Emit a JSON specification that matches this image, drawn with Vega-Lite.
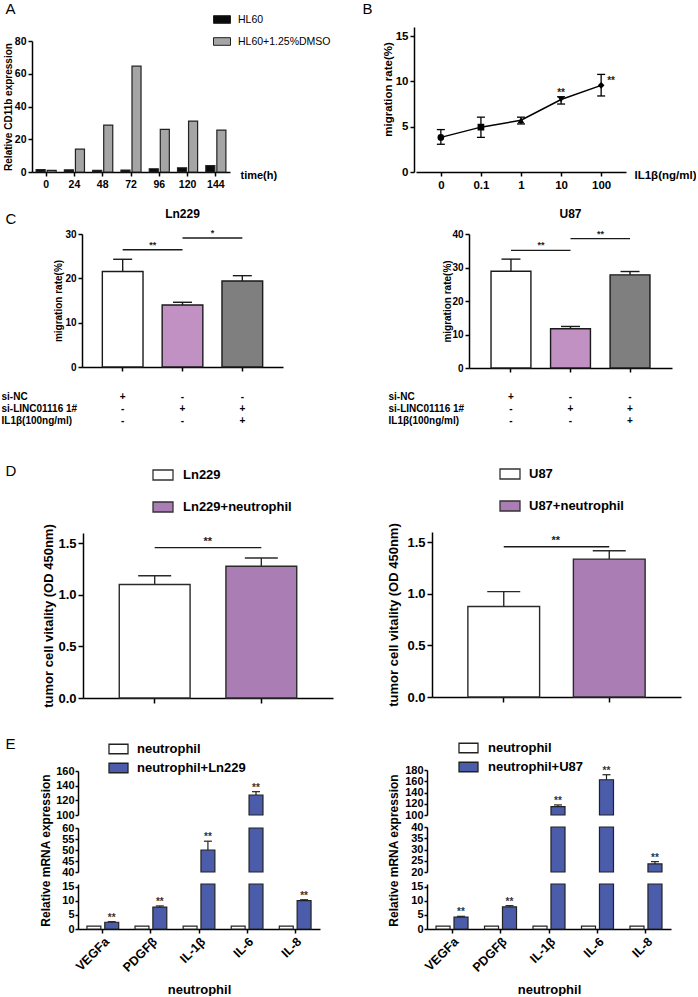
{
"$schema": "https://vega.github.io/schema/vega-lite/v6.json",
"padding": {"left": 1, "top": 1, "right": 0, "bottom": 0},
"columns": 2,
"align": "each",
"bounds": "flush",
"spacing": {"row": 0, "column": 81},
"resolve": {"scale": {"x": "independent", "y": "independent", "fill": "independent", "shape": "independent", "xOffset": "independent"}, "legend": {"fill": "independent"}},
"config": {
  "font": "Liberation Sans",
  "view": {"stroke": null},
  "axis": {"grid": false, "domainColor": "#000", "domainWidth": 1.5, "tickColor": "#000", "tickWidth": 1.5, "tickSize": 4, "labelColor": "#000", "labelFontWeight": "bold", "titleColor": "#000", "titleFontWeight": "bold", "labelFont": "Liberation Sans", "titleFont": "Liberation Sans"},
  "axisY": {"labelOverlap": false, "tickCount": 20},
  "legend": {"labelColor": "#000", "labelFont": "Liberation Sans"}
},
"datasets": {
  "a": [
    {"t":"0","g":"HL60","v":1.4},{"t":"0","g":"HL60+1.25%DMSO","v":1.0},
    {"t":"24","g":"HL60","v":1.3},{"t":"24","g":"HL60+1.25%DMSO","v":14.0},
    {"t":"48","g":"HL60","v":1.0},{"t":"48","g":"HL60+1.25%DMSO","v":28.6},
    {"t":"72","g":"HL60","v":1.2},{"t":"72","g":"HL60+1.25%DMSO","v":64.6},
    {"t":"96","g":"HL60","v":2.0},{"t":"96","g":"HL60+1.25%DMSO","v":26.0},
    {"t":"120","g":"HL60","v":2.6},{"t":"120","g":"HL60+1.25%DMSO","v":31.1},
    {"t":"144","g":"HL60","v":3.9},{"t":"144","g":"HL60+1.25%DMSO","v":25.6}
  ],
  "b": [
    {"c":"0","m":3.82,"lo":3.06,"hi":4.68},
    {"c":"0.1","m":4.95,"lo":3.82,"hi":6.05},
    {"c":"1","m":5.71,"lo":5.3,"hi":6.05},
    {"c":"10","m":8.0,"lo":7.5,"hi":8.3,"sig":"**"},
    {"c":"100","m":9.56,"lo":8.39,"hi":10.77,"sig":"**"}
  ],
  "cl": [{"k":"a","v":21.55,"hi":24.3},{"k":"b","v":14.0,"hi":14.6},{"k":"c","v":19.4,"hi":20.6}],
  "clsig": [{"f":"a","t":"b","y":26.45,"s":"**"},{"f":"b","t":"c","y":29.1,"s":"*"}],
  "cr": [{"k":"a","v":28.9,"hi":32.5},{"k":"b","v":11.7,"hi":12.4},{"k":"c","v":27.8,"hi":28.8}],
  "crsig": [{"f":"a","t":"b","y":35.1,"s":"**"},{"f":"b","t":"c","y":38.6,"s":"**"}],
  "dl": [{"k":"Ln229","v":1.10,"hi":1.186},{"k":"Ln229+neutrophil","v":1.277,"hi":1.358}],
  "dlsig": [{"f":"Ln229","t":"Ln229+neutrophil","y":1.458,"s":"**"}],
  "dr": [{"k":"U87","v":0.877,"hi":1.022},{"k":"U87+neutrophil","v":1.337,"hi":1.418}],
  "drsig": [{"f":"U87","t":"U87+neutrophil","y":1.457,"s":"**"}],
  "el": [
    {"gene":"VEGFa","grp":"neutrophil","v":1},
    {"gene":"VEGFa","grp":"neutrophil+Ln229","v":2.4,"hi":2.6,"sig":"**"},
    {"gene":"PDGFβ","grp":"neutrophil","v":1},
    {"gene":"PDGFβ","grp":"neutrophil+Ln229","v":7.8,"hi":8.2,"sig":"**"},
    {"gene":"IL-1β","grp":"neutrophil","v":1},
    {"gene":"IL-1β","grp":"neutrophil+Ln229","v":50.0,"hi":54.0,"sig":"**"},
    {"gene":"IL-6","grp":"neutrophil","v":1},
    {"gene":"IL-6","grp":"neutrophil+Ln229","v":127.3,"hi":131.8,"sig":"**"},
    {"gene":"IL-8","grp":"neutrophil","v":1},
    {"gene":"IL-8","grp":"neutrophil+Ln229","v":10.1,"hi":10.4,"sig":"**"}
  ],
  "er": [
    {"gene":"VEGFa","grp":"neutrophil","v":1},
    {"gene":"VEGFa","grp":"neutrophil+U87","v":4.2,"hi":4.5,"sig":"**"},
    {"gene":"PDGFβ","grp":"neutrophil","v":1},
    {"gene":"PDGFβ","grp":"neutrophil+U87","v":7.9,"hi":8.3,"sig":"**"},
    {"gene":"IL-1β","grp":"neutrophil","v":1},
    {"gene":"IL-1β","grp":"neutrophil+U87","v":115.0,"hi":117.9,"sig":"**"},
    {"gene":"IL-6","grp":"neutrophil","v":1},
    {"gene":"IL-6","grp":"neutrophil+U87","v":162.7,"hi":171.6,"sig":"**"},
    {"gene":"IL-8","grp":"neutrophil","v":1},
    {"gene":"IL-8","grp":"neutrophil+U87","v":23.6,"hi":24.6,"sig":"**"}
  ]
},
"concat": [
  {
    "width": 198, "height": 145,
    "data": {"name": "a"},
    "layer": [
      {"mark": {"type": "bar", "stroke": "#222", "strokeWidth": 1.2},
       "encoding": {
         "x": {"field": "t", "type": "ordinal", "sort": ["0","24","48","72","96","120","144"], "scale": {"paddingInner": 0.29, "paddingOuter": 0.145},
               "axis": {"orient": "bottom", "labelAngle": 0, "labelFontSize": 10.5, "labelPadding": 3, "title": "time(h)", "titleFontSize": 11, "titleX": 208, "titleY": 3, "titleAlign": "left", "titleBaseline": "middle"}},
         "xOffset": {"field": "g", "type": "nominal", "sort": ["HL60","HL60+1.25%DMSO"], "scale": {"paddingInner": 0.18}},
         "y": {"field": "v", "type": "quantitative", "scale": {"domain": [0, 80], "range": [145, 14]},
               "axis": {"values": [0,20,40,60,80], "tickCount": 20, "labelOverlap": false, "labelFontSize": 10.5, "labelPadding": 2, "title": "Relative CD11b expression", "titleFontSize": 10, "titleX": -24, "titleY": 79.5, "titleBaseline": "middle"}},
         "fill": {"field": "g", "type": "nominal", "scale": {"domain": ["HL60","HL60+1.25%DMSO"], "range": ["#0a0a0a","#a5a5a5"]},
                  "legend": {"orient": "none", "legendX": 181, "legendY": -16.5, "title": null, "symbolType": "M-1,-0.45H1V0.45H-1Z", "symbolSize": 289, "symbolStrokeColor": "#222", "symbolStrokeWidth": 1, "labelFontSize": 10.5, "labelOffset": 7, "rowPadding": 7}}
       }},
      {"mark": {"type": "text", "text": ""},
       "encoding": {
         "x": {"field": "t", "type": "ordinal", "sort": ["0","24","48","72","96","120","144"],
               "axis": {"orient": "top", "domain": false, "ticks": false, "labels": false, "title": "A", "titleX": -27, "titleY": -14, "titleAlign": "left", "titleBaseline": "alphabetic", "titleFontSize": 15, "titleFontWeight": "normal"}},
         "y": {"field": "v", "type": "quantitative"}
       }}
    ]
  },
  {
    "width": 212, "height": 145,
    "data": {"name": "b"},
    "layer": [
      {"mark": {"type": "line", "color": "#000", "strokeWidth": 1.5},
       "encoding": {
         "x": {"field": "c", "type": "ordinal", "sort": ["0","0.1","1","10","100"], "scale": {"type": "point", "padding": 0.62, "range": [2, 212]},
               "axis": {"orient": "bottom", "labelAngle": 0, "labelFontSize": 11.5, "labelPadding": 3, "title": "IL1β(ng/ml)", "titleFontSize": 11.5, "titleX": 220, "titleY": 3, "titleAlign": "left", "titleBaseline": "middle"}},
         "y": {"field": "m", "type": "quantitative", "scale": {"domain": [0, 15]},
               "axis": {"values": [0,5,10,15], "tickCount": 20, "labelOverlap": false, "labelFontSize": 11.5, "labelPadding": 2, "title": "migration rate(%)", "titleFontSize": 11.5, "titleX": -26, "titleY": 62, "titleBaseline": "middle"}}
       }},
      {"mark": {"type": "rule", "color": "#000", "strokeWidth": 1.3},
       "encoding": {
         "x": {"field": "c", "type": "ordinal", "sort": ["0","0.1","1","10","100"], "axis": null},
         "y": {"field": "lo", "type": "quantitative"},
         "y2": {"field": "hi"}
       }},
      {"mark": {"type": "tick", "orient": "horizontal", "color": "#000", "size": 8, "thickness": 1.3, "opacity": 1},
       "encoding": {
         "x": {"field": "c", "type": "ordinal", "sort": ["0","0.1","1","10","100"], "axis": null},
         "y": {"field": "hi", "type": "quantitative"}
       }},
      {"mark": {"type": "tick", "orient": "horizontal", "color": "#000", "size": 8, "thickness": 1.3, "opacity": 1},
       "encoding": {
         "x": {"field": "c", "type": "ordinal", "sort": ["0","0.1","1","10","100"], "axis": null},
         "y": {"field": "lo", "type": "quantitative"}
       }},
      {"mark": {"type": "point", "filled": true, "color": "#000", "opacity": 1, "size": 45},
       "encoding": {
         "x": {"field": "c", "type": "ordinal", "sort": ["0","0.1","1","10","100"], "axis": null},
         "y": {"field": "m", "type": "quantitative"},
         "shape": {"field": "c", "type": "nominal", "scale": {"domain": ["0","0.1","1","10","100"], "range": ["circle","square","triangle-up","triangle-down","diamond"]}, "legend": null}
       }},
      {"transform": [{"filter": "datum.c == '10'"}],
       "mark": {"type": "text", "fontSize": 10, "fontWeight": "bold", "baseline": "alphabetic", "dy": -1, "color": "#222"},
       "encoding": {
         "x": {"field": "c", "type": "ordinal", "sort": ["0","0.1","1","10","100"], "axis": null},
         "y": {"field": "hi", "type": "quantitative"},
         "text": {"field": "sig"}
       }},
      {"transform": [{"filter": "datum.c == '100'"}],
       "mark": {"type": "text", "fontSize": 10, "fontWeight": "bold", "baseline": "alphabetic", "align": "left", "dx": 6, "dy": -1, "color": "#222"},
       "encoding": {
         "x": {"field": "c", "type": "ordinal", "sort": ["0","0.1","1","10","100"], "axis": null},
         "y": {"field": "m", "type": "quantitative"},
         "text": {"field": "sig"}
       }},
      {"mark": {"type": "text", "text": ""},
       "encoding": {
         "x": {"field": "c", "type": "ordinal", "sort": ["0","0.1","1","10","100"],
               "axis": {"orient": "top", "domain": false, "ticks": false, "labels": false, "title": "B", "titleX": -52, "titleY": -14, "titleAlign": "left", "titleBaseline": "alphabetic", "titleFontSize": 15, "titleFontWeight": "normal"}},
         "y": {"field": "m", "type": "quantitative"}
       }}
    ]
  },
  {
    "width": 251, "height": 195,
    "layer": [
      {"data": {"name": "cl"},
       "mark": {"type": "bar", "stroke": "#1a1a1a", "strokeWidth": 1.4},
       "encoding": {
         "x": {"field": "k", "type": "nominal", "scale": {"domain": ["a","b","c"], "range": [50, 251], "paddingInner": 0.32, "paddingOuter": 0.34},
               "axis": {"orient": "bottom", "labelExpr": "datum.value == 'a' ? ['+','-','-'] : datum.value == 'b' ? ['-','+','-'] : ['-','+','+']", "labelAngle": 0, "labelFontSize": 10, "labelBaseline": "top", "labelPadding": 20, "labelLineHeight": 12,
                        "title": ["si-NC", "si-LINC01116 1#", "IL1β(100ng/ml)"], "titleX": -31, "titleY": 24, "titleAlign": "left", "titleBaseline": "top", "titleAngle": 0, "titleFontSize": 10, "titleLineHeight": 12}},
         "y": {"field": "v", "type": "quantitative", "scale": {"domain": [0, 30], "range": [195, 62]},
               "axis": {"offset": -50, "values": [0,10,20,30], "tickCount": 20, "labelOverlap": false, "labelFontSize": 10, "labelPadding": 2, "title": "migration rate(%)", "titleFontSize": 10, "titleX": -24, "titleY": 128.5, "titleBaseline": "middle"}},
         "fill": {"field": "k", "type": "nominal", "scale": {"domain": ["a","b","c"], "range": ["#ffffff","#c091c2","#7f7f7f"]}, "legend": null}
       }},
      {"data": {"name": "cl"},
       "mark": {"type": "rule", "color": "#1a1a1a", "strokeWidth": 1.4},
       "encoding": {
         "x": {"field": "k", "type": "nominal", "axis": null},
         "y": {"field": "v", "type": "quantitative"},
         "y2": {"field": "hi"}
       }},
      {"data": {"name": "cl"},
       "mark": {"type": "tick", "orient": "horizontal", "color": "#1a1a1a", "size": 19, "thickness": 1.4, "opacity": 1},
       "encoding": {
         "x": {"field": "k", "type": "nominal", "axis": null},
         "y": {"field": "hi", "type": "quantitative"}
       }},
      {"data": {"name": "clsig"},
       "mark": {"type": "rule", "color": "#1a1a1a", "strokeWidth": 1.3},
       "encoding": {
         "x": {"field": "f", "type": "nominal", "bandPosition": 0.5, "axis": null},
         "x2": {"field": "t", "bandPosition": 0.5},
         "y": {"field": "y", "type": "quantitative"}
       }},
      {"data": {"name": "clsig"},
       "mark": {"type": "text", "fontSize": 9, "fontWeight": "bold", "baseline": "alphabetic", "dx": 30, "dy": -2, "color": "#222"},
       "encoding": {
         "x": {"field": "f", "type": "nominal", "axis": null},
         "y": {"field": "y", "type": "quantitative"},
         "text": {"field": "s"}
       }},
      {"data": {"name": "cl"},
       "mark": {"type": "text", "text": ""},
       "encoding": {
         "x": {"field": "k", "type": "nominal",
               "axis": {"orient": "top", "domain": false, "ticks": false, "tickSize": 0, "labelExpr": "datum.value == 'b' ? 'Ln229' : ''", "labelAngle": 0, "labelFontSize": 12, "labelPadding": -41, "labelBaseline": "middle",
                        "title": "C", "titleX": -27, "titleY": 51, "titleAlign": "left", "titleBaseline": "alphabetic", "titleFontSize": 15, "titleFontWeight": "normal"}},
         "y": {"field": "v", "type": "quantitative"}
       }}
    ]
  },
  {
    "width": 258, "height": 196,
    "layer": [
      {"data": {"name": "cr"},
       "mark": {"type": "bar", "stroke": "#1a1a1a", "strokeWidth": 1.4},
       "encoding": {
         "x": {"field": "k", "type": "nominal", "scale": {"domain": ["a","b","c"], "range": [55, 258], "paddingInner": 0.33, "paddingOuter": 0.37},
               "axis": {"orient": "bottom", "labelExpr": "datum.value == 'a' ? ['+','-','-'] : datum.value == 'b' ? ['-','+','-'] : ['-','+','+']", "labelAngle": 0, "labelFontSize": 10, "labelBaseline": "top", "labelPadding": 19, "labelLineHeight": 12,
                        "title": ["si-NC", "si-LINC01116 1#", "IL1β(100ng/ml)"], "titleX": -26, "titleY": 23, "titleAlign": "left", "titleBaseline": "top", "titleAngle": 0, "titleFontSize": 10, "titleLineHeight": 12}},
         "y": {"field": "v", "type": "quantitative", "scale": {"domain": [0, 40], "range": [196, 62]},
               "axis": {"offset": -55, "values": [0,10,20,30,40], "tickCount": 20, "labelOverlap": false, "labelFontSize": 10, "labelPadding": 2, "title": "migration rate(%)", "titleFontSize": 10, "titleX": -22, "titleY": 129, "titleBaseline": "middle"}},
         "fill": {"field": "k", "type": "nominal", "scale": {"domain": ["a","b","c"], "range": ["#ffffff","#c091c2","#7f7f7f"]}, "legend": null}
       }},
      {"data": {"name": "cr"},
       "mark": {"type": "rule", "color": "#1a1a1a", "strokeWidth": 1.4},
       "encoding": {
         "x": {"field": "k", "type": "nominal", "axis": null},
         "y": {"field": "v", "type": "quantitative"},
         "y2": {"field": "hi"}
       }},
      {"data": {"name": "cr"},
       "mark": {"type": "tick", "orient": "horizontal", "color": "#1a1a1a", "size": 19, "thickness": 1.4, "opacity": 1},
       "encoding": {
         "x": {"field": "k", "type": "nominal", "axis": null},
         "y": {"field": "hi", "type": "quantitative"}
       }},
      {"data": {"name": "crsig"},
       "mark": {"type": "rule", "color": "#1a1a1a", "strokeWidth": 1.3},
       "encoding": {
         "x": {"field": "f", "type": "nominal", "bandPosition": 0.5, "axis": null},
         "x2": {"field": "t", "bandPosition": 0.5},
         "y": {"field": "y", "type": "quantitative"}
       }},
      {"data": {"name": "crsig"},
       "mark": {"type": "text", "fontSize": 9, "fontWeight": "bold", "baseline": "alphabetic", "dx": 30, "dy": -2, "color": "#222"},
       "encoding": {
         "x": {"field": "f", "type": "nominal", "axis": null},
         "y": {"field": "y", "type": "quantitative"},
         "text": {"field": "s"}
       }},
      {"data": {"name": "cr"},
       "mark": {"type": "text", "text": ""},
       "encoding": {
         "x": {"field": "k", "type": "nominal",
               "axis": {"orient": "top", "domain": false, "ticks": false, "tickSize": 0, "labelExpr": "datum.value == 'b' ? 'U87' : ''", "labelAngle": 0, "labelFontSize": 12, "labelPadding": -41, "labelBaseline": "middle", "title": null}},
         "y": {"field": "v", "type": "quantitative"}
       }}
    ]
  },
  {
    "width": 301, "height": 330,
    "layer": [
      {"data": {"name": "dl"},
       "mark": {"type": "bar", "stroke": "#2a2a2a", "strokeWidth": 1.4},
       "encoding": {
         "x": {"field": "k", "type": "nominal", "scale": {"domain": ["Ln229","Ln229+neutrophil"], "range": [51, 301], "paddingInner": 0.336, "paddingOuter": 0.34},
               "axis": {"orient": "bottom", "labels": false, "tickSize": 5, "title": null}},
         "y": {"field": "v", "type": "quantitative", "scale": {"domain": [0, 1.5], "range": [330, 165]},
               "axis": {"offset": -51, "values": [0,0.5,1,1.5], "tickCount": 20, "labelOverlap": false, "format": ".1f", "labelFontSize": 13, "labelPadding": 2, "tickSize": 5, "title": "tumor cell vitality (OD 450nm)", "titleFontSize": 13, "titleX": -35, "titleY": 247.5, "titleBaseline": "middle"}},
         "fill": {"field": "k", "type": "nominal", "scale": {"domain": ["Ln229","Ln229+neutrophil"], "range": ["#ffffff","#aa7db4"]},
                  "legend": {"orient": "none", "legendX": 120, "legendY": 96, "title": null, "symbolType": "M-1,-0.5H1V0.5H-1Z", "symbolSize": 400, "symbolStrokeColor": "#333", "symbolStrokeWidth": 1.3, "labelFontSize": 13, "labelFontWeight": "bold", "labelOffset": 9, "rowPadding": 13}}
       }},
      {"data": {"name": "dl"},
       "mark": {"type": "rule", "color": "#2a2a2a", "strokeWidth": 1.4},
       "encoding": {
         "x": {"field": "k", "type": "nominal", "axis": null},
         "y": {"field": "v", "type": "quantitative"},
         "y2": {"field": "hi"}
       }},
      {"data": {"name": "dl"},
       "mark": {"type": "tick", "orient": "horizontal", "color": "#2a2a2a", "size": 33, "thickness": 1.4, "opacity": 1},
       "encoding": {
         "x": {"field": "k", "type": "nominal", "axis": null},
         "y": {"field": "hi", "type": "quantitative"}
       }},
      {"data": {"name": "dlsig"},
       "mark": {"type": "rule", "color": "#1a1a1a", "strokeWidth": 1.4},
       "encoding": {
         "x": {"field": "f", "type": "nominal", "bandPosition": 0.5, "axis": null},
         "x2": {"field": "t", "bandPosition": 0.5},
         "y": {"field": "y", "type": "quantitative"}
       }},
      {"data": {"name": "dlsig"},
       "mark": {"type": "text", "fontSize": 11, "fontWeight": "bold", "baseline": "alphabetic", "dx": 53, "dy": -3, "color": "#222"},
       "encoding": {
         "x": {"field": "f", "type": "nominal", "axis": null},
         "y": {"field": "y", "type": "quantitative"},
         "text": {"field": "s"}
       }},
      {"data": {"name": "dl"},
       "mark": {"type": "text", "text": ""},
       "encoding": {
         "x": {"field": "k", "type": "nominal",
               "axis": {"orient": "top", "domain": false, "ticks": false, "labels": false, "title": "D", "titleX": -27, "titleY": 107, "titleAlign": "left", "titleBaseline": "alphabetic", "titleFontSize": 15, "titleFontWeight": "normal"}},
         "y": {"field": "v", "type": "quantitative"}
       }}
    ]
  },
  {
    "width": 267, "height": 329,
    "layer": [
      {"data": {"name": "dr"},
       "mark": {"type": "bar", "stroke": "#2a2a2a", "strokeWidth": 1.4},
       "encoding": {
         "x": {"field": "k", "type": "nominal", "scale": {"domain": ["U87","U87+neutrophil"], "range": [18, 267], "paddingInner": 0.32, "paddingOuter": 0.34},
               "axis": {"orient": "bottom", "labels": false, "tickSize": 5, "title": null}},
         "y": {"field": "v", "type": "quantitative", "scale": {"domain": [0, 1.5], "range": [329, 164]},
               "axis": {"offset": -18, "values": [0,0.5,1,1.5], "tickCount": 20, "labelOverlap": false, "format": ".1f", "labelFontSize": 13, "labelPadding": 2, "tickSize": 5, "title": "tumor cell vitality (OD 450nm)", "titleFontSize": 13, "titleX": -39, "titleY": 246.5, "titleBaseline": "middle"}},
         "fill": {"field": "k", "type": "nominal", "scale": {"domain": ["U87","U87+neutrophil"], "range": ["#ffffff","#aa7db4"]},
                  "legend": {"orient": "none", "legendX": 85, "legendY": 95, "title": null, "symbolType": "M-1,-0.5H1V0.5H-1Z", "symbolSize": 400, "symbolStrokeColor": "#333", "symbolStrokeWidth": 1.3, "labelFontSize": 13, "labelFontWeight": "bold", "labelOffset": 8, "rowPadding": 13}}
       }},
      {"data": {"name": "dr"},
       "mark": {"type": "rule", "color": "#2a2a2a", "strokeWidth": 1.4},
       "encoding": {
         "x": {"field": "k", "type": "nominal"},
         "y": {"field": "v", "type": "quantitative"},
         "y2": {"field": "hi"}
       }},
      {"data": {"name": "dr"},
       "mark": {"type": "tick", "orient": "horizontal", "color": "#2a2a2a", "size": 33, "thickness": 1.4, "opacity": 1},
       "encoding": {
         "x": {"field": "k", "type": "nominal"},
         "y": {"field": "hi", "type": "quantitative"}
       }},
      {"data": {"name": "drsig"},
       "mark": {"type": "rule", "color": "#1a1a1a", "strokeWidth": 1.4},
       "encoding": {
         "x": {"field": "f", "type": "nominal", "bandPosition": 0.5},
         "x2": {"field": "t", "bandPosition": 0.5},
         "y": {"field": "y", "type": "quantitative"}
       }},
      {"data": {"name": "drsig"},
       "mark": {"type": "text", "fontSize": 11, "fontWeight": "bold", "baseline": "alphabetic", "dx": 52, "dy": -3, "color": "#222"},
       "encoding": {
         "x": {"field": "f", "type": "nominal"},
         "y": {"field": "y", "type": "quantitative"},
         "text": {"field": "s"}
       }}
    ]
  },
  {
    "width": 288, "height": 117,
    "data": {"name": "el"},
    "layer": [
      {"transform": [{"filter": "datum.v > 100"}],
       "mark": {"type": "bar", "stroke": "#222", "strokeWidth": 1.2},
       "encoding": {
         "x": {"field": "gene", "type": "nominal", "scale": {"domain": ["VEGFa","PDGFβ","IL-1β","IL-6","IL-8"], "range": [46, 288], "paddingInner": 0.34, "paddingOuter": 0.186}},
         "xOffset": {"field": "grp", "type": "nominal", "scale": {"domain": ["neutrophil","neutrophil+Ln229"], "paddingInner": 0.22}},
         "y": {"field": "v", "type": "quantitative", "scale": {"domain": [100, 160], "range": [117, 73], "clamp": true},
               "axis": {"offset": -46, "values": [100,120,140,160], "tickCount": 20, "labelOverlap": false, "labelFontSize": 11, "labelPadding": 1, "tickSize": 3, "title": null}},
         "y2": {"datum": 0},
         "fill": {"field": "grp", "type": "nominal", "scale": {"domain": ["neutrophil","neutrophil+Ln229"], "range": ["#ffffff","#4b5cab"]},
                  "legend": {"orient": "none", "legendX": 76, "legendY": 40.5, "title": null, "symbolType": "M-1,-0.5H1V0.5H-1Z", "symbolSize": 361, "symbolStrokeColor": "#222", "symbolStrokeWidth": 1.3, "labelFontSize": 13, "labelFontWeight": "bold", "labelOffset": 8, "rowPadding": 1}}
       }},
      {"transform": [{"filter": "datum.hi != null && datum.hi > 100"}],
       "mark": {"type": "rule", "color": "#222", "strokeWidth": 1.2},
       "encoding": {
         "x": {"field": "gene", "type": "nominal"},
         "xOffset": {"field": "grp", "type": "nominal"},
         "y": {"field": "v", "type": "quantitative"},
         "y2": {"field": "hi"}
       }},
      {"transform": [{"filter": "datum.hi != null && datum.hi > 100"}],
       "mark": {"type": "tick", "orient": "horizontal", "color": "#222", "size": 8, "thickness": 1.2, "opacity": 1},
       "encoding": {
         "x": {"field": "gene", "type": "nominal"},
         "xOffset": {"field": "grp", "type": "nominal"},
         "y": {"field": "hi", "type": "quantitative"}
       }},
      {"transform": [{"filter": "datum.hi != null && datum.hi > 100"}],
       "mark": {"type": "text", "fontSize": 10, "fontWeight": "bold", "baseline": "alphabetic", "dy": -1, "color": "#333"},
       "encoding": {
         "x": {"field": "gene", "type": "nominal"},
         "xOffset": {"field": "grp", "type": "nominal"},
         "y": {"field": "hi", "type": "quantitative"},
         "text": {"field": "sig"}
       }},
      {"mark": {"type": "text", "text": ""},
       "encoding": {
         "x": {"field": "gene", "type": "nominal",
               "axis": {"orient": "top", "domain": false, "ticks": false, "labels": false, "title": "E", "titleX": -27, "titleY": 50, "titleAlign": "left", "titleBaseline": "alphabetic", "titleFontSize": 15, "titleFontWeight": "normal"}},
         "y": {"field": "v", "type": "quantitative"}
       }}
    ]
  },
  {
    "width": 257, "height": 117,
    "data": {"name": "er"},
    "layer": [
      {"transform": [{"filter": "datum.v > 100"}],
       "mark": {"type": "bar", "stroke": "#222", "strokeWidth": 1.2},
       "encoding": {
         "x": {"field": "gene", "type": "nominal", "scale": {"domain": ["VEGFa","PDGFβ","IL-1β","IL-6","IL-8"], "range": [13, 257], "paddingInner": 0.34, "paddingOuter": 0.186}, "axis": null},
         "xOffset": {"field": "grp", "type": "nominal", "scale": {"domain": ["neutrophil","neutrophil+U87"], "paddingInner": 0.22}},
         "y": {"field": "v", "type": "quantitative", "scale": {"domain": [100, 180], "range": [117, 72], "clamp": true},
               "axis": {"offset": -13, "values": [100,120,140,160,180], "tickCount": 20, "labelOverlap": false, "labelFontSize": 11, "labelPadding": 1, "tickSize": 3, "title": null}},
         "y2": {"datum": 0},
         "fill": {"field": "grp", "type": "nominal", "scale": {"domain": ["neutrophil","neutrophil+U87"], "range": ["#ffffff","#4b5cab"]},
                  "legend": {"orient": "none", "legendX": 44, "legendY": 39.5, "title": null, "symbolType": "M-1,-0.5H1V0.5H-1Z", "symbolSize": 361, "symbolStrokeColor": "#222", "symbolStrokeWidth": 1.3, "labelFontSize": 13, "labelFontWeight": "bold", "labelOffset": 9, "rowPadding": 1}}
       }},
      {"transform": [{"filter": "datum.hi != null && datum.hi > 100"}],
       "mark": {"type": "rule", "color": "#222", "strokeWidth": 1.2},
       "encoding": {
         "x": {"field": "gene", "type": "nominal", "axis": null},
         "xOffset": {"field": "grp", "type": "nominal"},
         "y": {"field": "v", "type": "quantitative"},
         "y2": {"field": "hi"}
       }},
      {"transform": [{"filter": "datum.hi != null && datum.hi > 100"}],
       "mark": {"type": "tick", "orient": "horizontal", "color": "#222", "size": 8, "thickness": 1.2, "opacity": 1},
       "encoding": {
         "x": {"field": "gene", "type": "nominal", "axis": null},
         "xOffset": {"field": "grp", "type": "nominal"},
         "y": {"field": "hi", "type": "quantitative"}
       }},
      {"transform": [{"filter": "datum.hi != null && datum.hi > 100"}],
       "mark": {"type": "text", "fontSize": 10, "fontWeight": "bold", "baseline": "alphabetic", "dy": -1, "color": "#333"},
       "encoding": {
         "x": {"field": "gene", "type": "nominal", "axis": null},
         "xOffset": {"field": "grp", "type": "nominal"},
         "y": {"field": "hi", "type": "quantitative"},
         "text": {"field": "sig"}
       }}
    ]
  },
  {
    "width": 288, "height": 57,
    "data": {"name": "el"},
    "layer": [
      {"transform": [{"filter": "datum.v > 40"}],
       "mark": {"type": "bar", "stroke": "#222", "strokeWidth": 1.2},
       "encoding": {
         "x": {"field": "gene", "type": "nominal", "scale": {"domain": ["VEGFa","PDGFβ","IL-1β","IL-6","IL-8"], "range": [46, 288], "paddingInner": 0.34, "paddingOuter": 0.186}, "axis": null},
         "xOffset": {"field": "grp", "type": "nominal", "scale": {"domain": ["neutrophil","neutrophil+Ln229"], "paddingInner": 0.22}},
         "y": {"field": "v", "type": "quantitative", "scale": {"domain": [40, 60], "range": [57, 13], "clamp": true},
               "axis": {"offset": -46, "values": [40,45,50,55,60], "tickCount": 20, "labelOverlap": false, "labelFontSize": 11, "labelPadding": 1, "tickSize": 3, "title": "Relative mRNA expression", "titleFontSize": 12, "titleX": -33, "titleY": 35, "titleBaseline": "middle"}},
         "y2": {"datum": 0},
         "fill": {"field": "grp", "type": "nominal", "scale": {"domain": ["neutrophil","neutrophil+Ln229"], "range": ["#ffffff","#4b5cab"]}, "legend": null}
       }},
      {"transform": [{"filter": "datum.hi != null && datum.hi > 40 && datum.hi <= 60"}],
       "mark": {"type": "rule", "color": "#222", "strokeWidth": 1.2},
       "encoding": {
         "x": {"field": "gene", "type": "nominal", "axis": null},
         "xOffset": {"field": "grp", "type": "nominal"},
         "y": {"field": "v", "type": "quantitative"},
         "y2": {"field": "hi"}
       }},
      {"transform": [{"filter": "datum.hi != null && datum.hi > 40 && datum.hi <= 60"}],
       "mark": {"type": "tick", "orient": "horizontal", "color": "#222", "size": 8, "thickness": 1.2, "opacity": 1},
       "encoding": {
         "x": {"field": "gene", "type": "nominal", "axis": null},
         "xOffset": {"field": "grp", "type": "nominal"},
         "y": {"field": "hi", "type": "quantitative"}
       }},
      {"transform": [{"filter": "datum.hi != null && datum.hi > 40 && datum.hi <= 60"}],
       "mark": {"type": "text", "fontSize": 10, "fontWeight": "bold", "baseline": "alphabetic", "dy": -1, "color": "#333"},
       "encoding": {
         "x": {"field": "gene", "type": "nominal", "axis": null},
         "xOffset": {"field": "grp", "type": "nominal"},
         "y": {"field": "hi", "type": "quantitative"},
         "text": {"field": "sig"}
       }}
    ]
  },
  {
    "width": 257, "height": 57,
    "data": {"name": "er"},
    "layer": [
      {"transform": [{"filter": "datum.v > 20"}],
       "mark": {"type": "bar", "stroke": "#222", "strokeWidth": 1.2},
       "encoding": {
         "x": {"field": "gene", "type": "nominal", "scale": {"domain": ["VEGFa","PDGFβ","IL-1β","IL-6","IL-8"], "range": [13, 257], "paddingInner": 0.34, "paddingOuter": 0.186}, "axis": null},
         "xOffset": {"field": "grp", "type": "nominal", "scale": {"domain": ["neutrophil","neutrophil+U87"], "paddingInner": 0.22}},
         "y": {"field": "v", "type": "quantitative", "scale": {"domain": [20, 40], "range": [57, 12], "clamp": true},
               "axis": {"offset": -13, "values": [20,25,30,35,40], "tickCount": 20, "labelOverlap": false, "labelFontSize": 11, "labelPadding": 1, "tickSize": 3, "title": "Relative mRNA expression", "titleFontSize": 12, "titleX": -34, "titleY": 35, "titleBaseline": "middle"}},
         "y2": {"datum": 0},
         "fill": {"field": "grp", "type": "nominal", "scale": {"domain": ["neutrophil","neutrophil+U87"], "range": ["#ffffff","#4b5cab"]}, "legend": null}
       }},
      {"transform": [{"filter": "datum.hi != null && datum.hi > 20 && datum.hi <= 40"}],
       "mark": {"type": "rule", "color": "#222", "strokeWidth": 1.2},
       "encoding": {
         "x": {"field": "gene", "type": "nominal", "axis": null},
         "xOffset": {"field": "grp", "type": "nominal"},
         "y": {"field": "v", "type": "quantitative"},
         "y2": {"field": "hi"}
       }},
      {"transform": [{"filter": "datum.hi != null && datum.hi > 20 && datum.hi <= 40"}],
       "mark": {"type": "tick", "orient": "horizontal", "color": "#222", "size": 8, "thickness": 1.2, "opacity": 1},
       "encoding": {
         "x": {"field": "gene", "type": "nominal", "axis": null},
         "xOffset": {"field": "grp", "type": "nominal"},
         "y": {"field": "hi", "type": "quantitative"}
       }},
      {"transform": [{"filter": "datum.hi != null && datum.hi > 20 && datum.hi <= 40"}],
       "mark": {"type": "text", "fontSize": 10, "fontWeight": "bold", "baseline": "alphabetic", "dy": -1, "color": "#333"},
       "encoding": {
         "x": {"field": "gene", "type": "nominal", "axis": null},
         "xOffset": {"field": "grp", "type": "nominal"},
         "y": {"field": "hi", "type": "quantitative"},
         "text": {"field": "sig"}
       }}
    ]
  },
  {
    "width": 288, "height": 57,
    "data": {"name": "el"},
    "layer": [
      {"mark": {"type": "bar", "stroke": "#222", "strokeWidth": 1.2},
       "encoding": {
         "x": {"field": "gene", "type": "nominal", "scale": {"domain": ["VEGFa","PDGFβ","IL-1β","IL-6","IL-8"], "range": [46, 288], "paddingInner": 0.34, "paddingOuter": 0.186},
               "axis": {"orient": "bottom", "labelAngle": -45, "labelFontSize": 12.5, "labelPadding": 2, "tickSize": 4, "title": "neutrophil", "titleFontSize": 13, "titleY": 60, "titleBaseline": "middle"}},
         "xOffset": {"field": "grp", "type": "nominal", "scale": {"domain": ["neutrophil","neutrophil+Ln229"], "paddingInner": 0.22}},
         "y": {"field": "v", "type": "quantitative", "scale": {"domain": [0, 15], "range": [57, 12], "clamp": true},
               "axis": {"offset": -46, "values": [0,5,10,15], "tickCount": 20, "labelOverlap": false, "labelFontSize": 11, "labelPadding": 1, "tickSize": 3, "title": null}},
         "y2": {"datum": 0},
         "fill": {"field": "grp", "type": "nominal", "scale": {"domain": ["neutrophil","neutrophil+Ln229"], "range": ["#ffffff","#4b5cab"]}, "legend": null}
       }},
      {"transform": [{"filter": "datum.hi != null && datum.hi <= 15"}],
       "mark": {"type": "rule", "color": "#222", "strokeWidth": 1.2},
       "encoding": {
         "x": {"field": "gene", "type": "nominal"},
         "xOffset": {"field": "grp", "type": "nominal"},
         "y": {"field": "v", "type": "quantitative"},
         "y2": {"field": "hi"}
       }},
      {"transform": [{"filter": "datum.hi != null && datum.hi <= 15"}],
       "mark": {"type": "tick", "orient": "horizontal", "color": "#222", "size": 8, "thickness": 1.2, "opacity": 1},
       "encoding": {
         "x": {"field": "gene", "type": "nominal"},
         "xOffset": {"field": "grp", "type": "nominal"},
         "y": {"field": "hi", "type": "quantitative"}
       }},
      {"transform": [{"filter": "datum.hi != null && datum.hi <= 15"}],
       "mark": {"type": "text", "fontSize": 10, "fontWeight": "bold", "baseline": "alphabetic", "dy": -1, "color": "#333"},
       "encoding": {
         "x": {"field": "gene", "type": "nominal"},
         "xOffset": {"field": "grp", "type": "nominal"},
         "y": {"field": "hi", "type": "quantitative"},
         "text": {"field": "sig"}
       }}
    ]
  },
  {
    "width": 257, "height": 57,
    "data": {"name": "er"},
    "layer": [
      {"mark": {"type": "bar", "stroke": "#222", "strokeWidth": 1.2},
       "encoding": {
         "x": {"field": "gene", "type": "nominal", "scale": {"domain": ["VEGFa","PDGFβ","IL-1β","IL-6","IL-8"], "range": [13, 257], "paddingInner": 0.34, "paddingOuter": 0.186},
               "axis": {"orient": "bottom", "labelAngle": -45, "labelFontSize": 12.5, "labelPadding": 2, "tickSize": 4, "title": "neutrophil", "titleFontSize": 13, "titleY": 60, "titleBaseline": "middle"}},
         "xOffset": {"field": "grp", "type": "nominal", "scale": {"domain": ["neutrophil","neutrophil+U87"], "paddingInner": 0.22}},
         "y": {"field": "v", "type": "quantitative", "scale": {"domain": [0, 15], "range": [57, 12], "clamp": true},
               "axis": {"offset": -13, "values": [0,5,10,15], "tickCount": 20, "labelOverlap": false, "labelFontSize": 11, "labelPadding": 1, "tickSize": 3, "title": null}},
         "y2": {"datum": 0},
         "fill": {"field": "grp", "type": "nominal", "scale": {"domain": ["neutrophil","neutrophil+U87"], "range": ["#ffffff","#4b5cab"]}, "legend": null}
       }},
      {"transform": [{"filter": "datum.hi != null && datum.hi <= 15"}],
       "mark": {"type": "rule", "color": "#222", "strokeWidth": 1.2},
       "encoding": {
         "x": {"field": "gene", "type": "nominal"},
         "xOffset": {"field": "grp", "type": "nominal"},
         "y": {"field": "v", "type": "quantitative"},
         "y2": {"field": "hi"}
       }},
      {"transform": [{"filter": "datum.hi != null && datum.hi <= 15"}],
       "mark": {"type": "tick", "orient": "horizontal", "color": "#222", "size": 8, "thickness": 1.2, "opacity": 1},
       "encoding": {
         "x": {"field": "gene", "type": "nominal"},
         "xOffset": {"field": "grp", "type": "nominal"},
         "y": {"field": "hi", "type": "quantitative"}
       }},
      {"transform": [{"filter": "datum.hi != null && datum.hi <= 15"}],
       "mark": {"type": "text", "fontSize": 10, "fontWeight": "bold", "baseline": "alphabetic", "dy": -1, "color": "#333"},
       "encoding": {
         "x": {"field": "gene", "type": "nominal"},
         "xOffset": {"field": "grp", "type": "nominal"},
         "y": {"field": "hi", "type": "quantitative"},
         "text": {"field": "sig"}
       }}
    ]
  }
]
}
